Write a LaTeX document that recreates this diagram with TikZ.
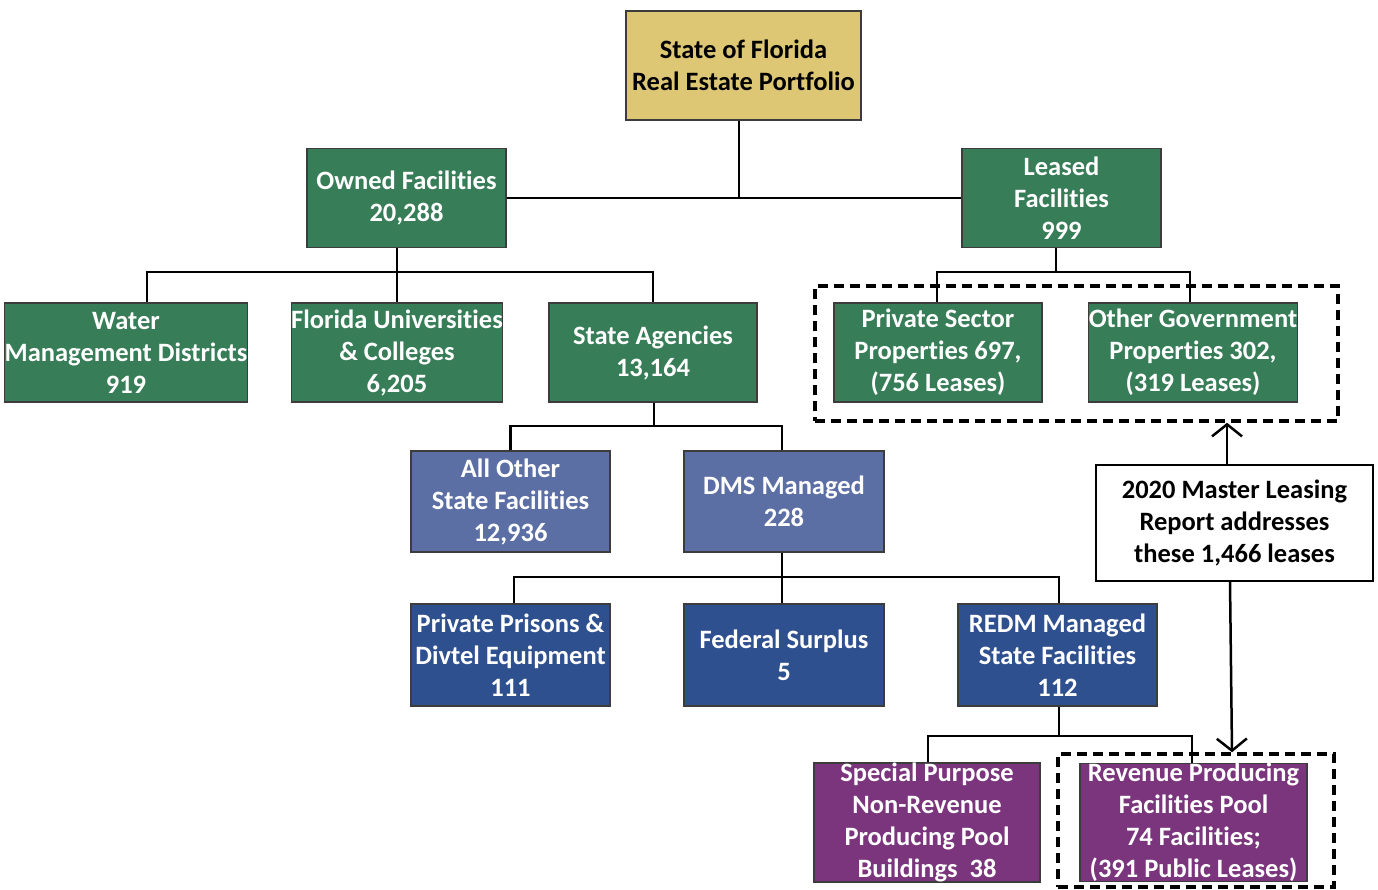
\documentclass[tikz,border=0pt]{standalone}
\usepackage{fontspec}
\setmainfont{Carlito}[Ligatures=NoCommon]
\usetikzlibrary{arrows.meta}
\definecolor{ftan}{RGB}{221,198,116}
\definecolor{fgreen}{RGB}{55,125,87}
\definecolor{lblue}{RGB}{91,111,165}
\definecolor{dblue}{RGB}{47,80,143}
\definecolor{fpurple}{RGB}{122,53,125}
\definecolor{boxline}{RGB}{60,60,60}
\begin{document}
\begin{tikzpicture}[x=1pt,y=-1pt,
  box/.style={draw=boxline, line width=1.3pt, inner sep=0pt, align=center, text=white,
    font=\bfseries\fontsize{26.5}{32}\selectfont},
  gbox/.style={box, fill=fgreen, minimum width=199, minimum height=99},
  conn/.style={line width=2.5pt, black},
  dashbox/.style={draw, line width=3.5pt, dash pattern=on 10pt off 6pt, inner sep=0pt},
  arr/.style={line width=2.5pt, -{Straight Barb[length=12pt,width=30pt]}}]
\useasboundingbox (0,0) rectangle (1378,889);
% dashed groups
\node[dashbox, minimum width=523, minimum height=135] (grp1) at (1076.5,353.5) {};
\node[dashbox, minimum width=276, minimum height=133] (grp2) at (1196,820.5) {};
% nodes
\node[box, fill=ftan, text=black, minimum width=235, minimum height=109] (top) at (743.5,65.5) {State of Florida\\Real Estate Portfolio};
\node[gbox] (owned) at (406.5,198) {Owned Facilities\\20,288};
\node[gbox] (leased) at (1061.5,198) {Leased\\Facilities\\999};
\node[gbox, minimum width=238] (water) at (126,352.5) {Water\\Management Districts\\919};
\node[gbox, minimum width=208] (florida) at (397,352.5) {Florida Universities\\\& Colleges\\6,205};
\node[gbox, minimum width=208] (agencies) at (653,352.5) {State Agencies\\13,164};
\node[gbox, minimum width=208] (private) at (938,352.5) {Private Sector\\Properties 697,\\(756 Leases)};
\node[gbox, minimum width=208] (othergov) at (1193,352.5) {Other Government\\Properties 302,\\(319 Leases)};
\node[box, fill=lblue, minimum width=199, minimum height=101] (allother) at (510.5,501.5) {All Other\\State Facilities\\12,936};
\node[box, fill=lblue, minimum width=200, minimum height=101] (dms) at (784,501.5) {DMS Managed\\228};
\node[box, fill=dblue, minimum width=199, minimum height=102] (prisons) at (510.5,655) {Private Prisons \&\\Divtel Equipment\\111};
\node[box, fill=dblue, minimum width=200, minimum height=102] (federal) at (784,655) {Federal Surplus\\5};
\node[box, fill=dblue, minimum width=199, minimum height=102] (redm) at (1057.5,655) {REDM Managed\\State Facilities\\112};
\node[box, fill=fpurple, minimum width=226, minimum height=115] (special) at (927,822.5) {Special Purpose\\Non-Revenue\\Producing Pool\\Buildings\ \ 38};
\node[box, fill=fpurple, minimum width=227, minimum height=115] (revenue) at (1193.5,822.5) {Revenue Producing\\Facilities Pool\\74 Facilities;\\(391 Public Leases)};
\node[box, fill=white, text=black, draw=black, line width=1.8pt, minimum width=277, minimum height=116] (master) at (1234.5,523) {2020 Master Leasing\\Report addresses\\these 1,466 leases};
% connectors
\coordinate (b1) at (397,272);
\coordinate (b2) at (1056,272);
\coordinate (b3) at (654,426);
\coordinate (b4) at (782,577);
\coordinate (b5) at (1059,736);
\draw[conn] ([xshift=-4.5]top.south) -- ([xshift=-4.5]top.south |- owned.east);
\draw[conn] (owned.east) -- (leased.west);
\draw[conn] (florida.north |- owned.south) -- (florida.north);
\draw[conn] ([xshift=21]water.north) |- (b1) -| (agencies.north);
\draw[conn] (b2 |- leased.south) -- (b2);
\draw[conn] ([xshift=-1]private.north) |- (b2) -| ([xshift=-3]othergov.north);
\draw[conn] (b3 |- agencies.south) -- (b3);
\draw[conn] (allother.north) |- (b3) -| ([xshift=-2]dms.north);
\draw[conn] (b4 |- dms.south) -- (b4 |- federal.north);
\draw[conn] ([xshift=3.5]prisons.north) |- (b4) -| ([xshift=1.5]redm.north);
\draw[conn] (b5 |- redm.south) -- (b5);
\draw[conn] ([xshift=1]special.north) |- (b5) -| ([xshift=-1.5]revenue.north);
\draw[arr] ([xshift=-7.5]master.north) -- ([xshift=-7.5]master.north |- grp1.south);
\draw[arr] ([xshift=-4.5]master.south) -- ([xshift=36]grp2.north);
\end{tikzpicture}
\end{document}
